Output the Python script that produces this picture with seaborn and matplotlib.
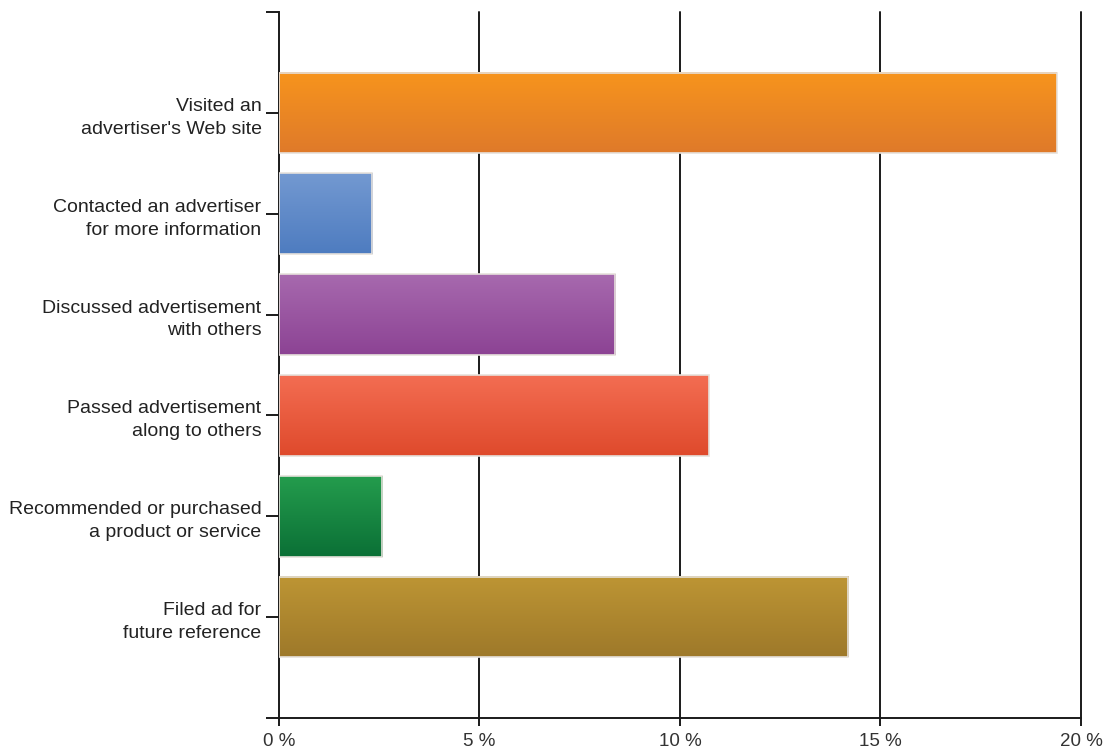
import numpy as np
import pandas as pd
import matplotlib
matplotlib.use("Agg")
import matplotlib.pyplot as plt
import seaborn as sns
from matplotlib.colors import LinearSegmentedColormap

# chart data
categories = [
    "Visited an\nadvertiser's Web site",
    "Contacted an advertiser\nfor more information",
    "Discussed advertisement\nwith others",
    "Passed advertisement\nalong to others",
    "Recommended or purchased\na product or service",
    "Filed ad for\nfuture reference",
]
values = [19.4, 2.32, 8.38, 10.72, 2.57, 14.19]
x_ticks = [0, 5, 10, 15, 20]
x_tick_labels = ["0 %", "5 %", "10 %", "15 %", "20 %"]
# (top colour, bottom colour) of each bar gradient
bar_colors = [
    ("#F7941D", "#DF7A2A"),
    ("#7399D1", "#4E7CC0"),
    ("#A769AE", "#8C4394"),
    ("#F36D52", "#DF4A2C"),
    ("#249C4D", "#0B7036"),
    ("#BD9534", "#9E792A"),
]

df = pd.DataFrame({"category": categories, "value": values})

sns.set_style("white")
plt.rcParams["font.family"] = ["Liberation Sans", "DejaVu Sans"]

fig = plt.figure(figsize=(11.07, 7.55), dpi=100)
ax = fig.add_axes([0.252, 0.049, 0.7245, 0.935])

sns.barplot(data=df, x="value", y="category", orient="h", width=0.8,
            color="white", ax=ax, zorder=3)

# gradient fill for every bar
for patch, (top, bottom) in zip(ax.patches, bar_colors):
    x0, y0 = patch.get_x(), patch.get_y()
    w, h = patch.get_width(), patch.get_height()
    cmap = LinearSegmentedColormap.from_list("g", [top, bottom])
    grad = np.linspace(0, 1, 100).reshape(-1, 1)
    ax.imshow(grad, cmap=cmap, aspect="auto",
              extent=[x0, x0 + w, y0 + h, y0], zorder=3)
    patch.set_facecolor("none")
    patch.set_edgecolor("#e6e1dc")
    patch.set_linewidth(1.2)
    patch.set_zorder(4)

ax.set_xlim(0, 20)
ax.set_ylim(6, -1)
ax.set_xticks(x_ticks)
ax.set_xticklabels(x_tick_labels, fontsize=13.5, color="#333333")
ax.set_yticks(list(range(-1, 7)))
ax.set_yticklabels([""] + categories + [""], fontsize=14, color="#222222")
ax.set_xlabel("")
ax.set_ylabel("")

for xv in x_ticks[1:]:
    ax.axvline(xv, color="#1a1a1a", lw=1.4, zorder=2, clip_on=False)

for side in ["top", "right"]:
    ax.spines[side].set_visible(False)
for side in ["left", "bottom"]:
    ax.spines[side].set_color("#1a1a1a")
    ax.spines[side].set_linewidth(1.4)

ax.tick_params(axis="y", direction="out", length=9.5, width=1.4,
               color="#1a1a1a", pad=3, left=True)
ax.tick_params(axis="x", direction="out", length=6, width=1.4,
               color="#1a1a1a", pad=5, bottom=True)
for lbl in ax.get_yticklabels():
    lbl.set_multialignment("right")
    lbl.set_linespacing(1.45)

fig.savefig("out.png", dpi=100)
